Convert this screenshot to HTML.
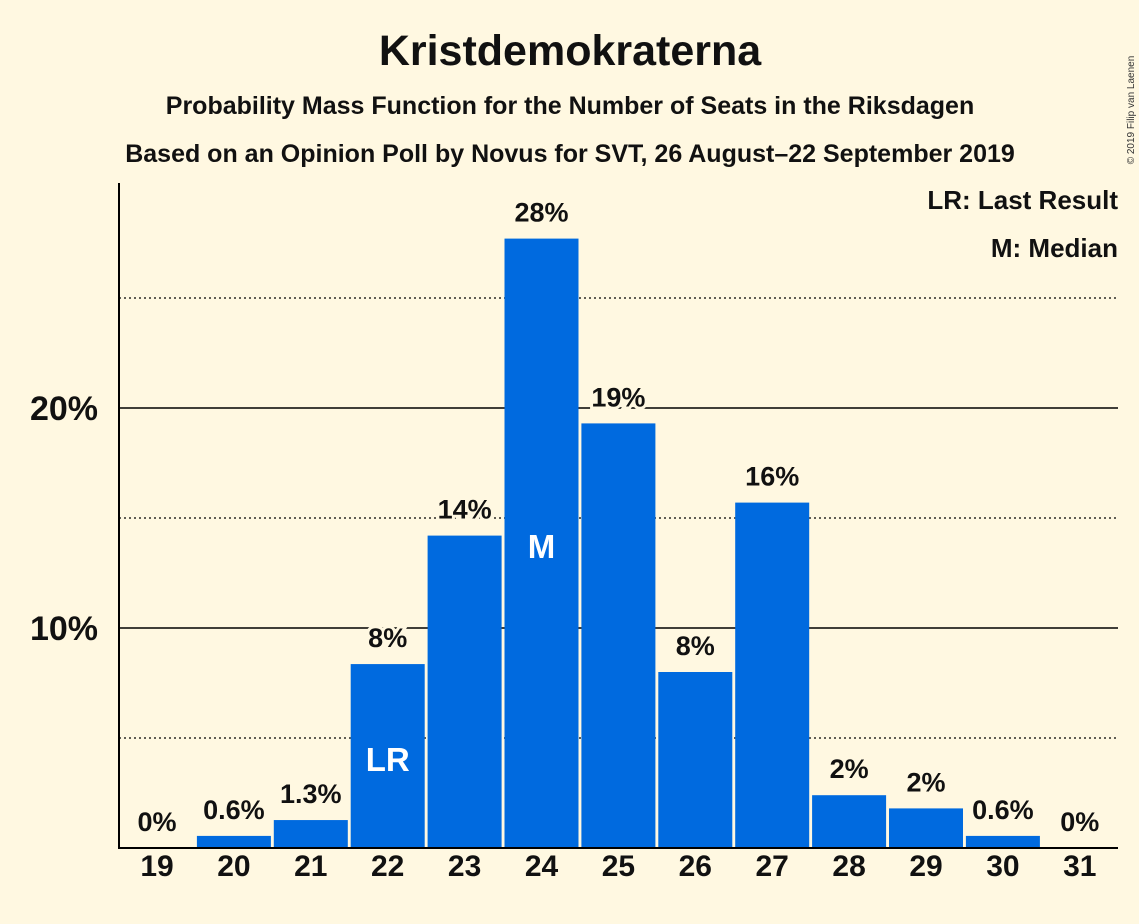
<!DOCTYPE html>
<html><head><meta charset="utf-8"><style>
body{margin:0;background:#fff8e1;}
svg{display:block;font-family:"Liberation Sans",sans-serif;}
</style></head><body>
<svg width="1139" height="924">
<rect width="1139" height="924" fill="#fff8e1"/>
<text x="570" y="65" text-anchor="middle" font-size="43" font-weight="bold" fill="#111">Kristdemokraterna</text>
<text x="570" y="114" text-anchor="middle" font-size="25" font-weight="bold" fill="#111">Probability Mass Function for the Number of Seats in the Riksdagen</text>
<text x="570" y="162" text-anchor="middle" font-size="25" font-weight="bold" fill="#111">Based on an Opinion Poll by Novus for SVT, 26 August–22 September 2019</text>
<text x="1134" y="110" transform="rotate(-90 1134 110)" text-anchor="middle" font-size="10" fill="#333">© 2019 Filip van Laenen</text>
<g id="grid"></g>
<g id="bars"></g>
<line x1="119" y1="183" x2="119" y2="849" stroke="#000" stroke-width="2"/>
<line x1="119" y1="848" x2="1118" y2="848" stroke="#000" stroke-width="2"/>
<text x="1118" y="209" text-anchor="end" font-size="26" font-weight="bold" fill="#111">LR: Last Result</text>
<text x="1118" y="257" text-anchor="end" font-size="26" font-weight="bold" fill="#111">M: Median</text>
</svg>
<script>
const seats=[19,20,21,22,23,24,25,26,27,28,29,30,31];
const probs=[0,0.55,1.27,8.36,14.2,27.7,19.3,8.0,15.7,2.4,1.8,0.55,0];
const labels=["0%","0.6%","1.3%","8%","14%","28%","19%","8%","16%","2%","2%","0.6%","0%"];
const markers=["","","","LR","","M","","","","","","",""];
const solidTicks=[10,20];
const dottedTicks=[5,15,25];
const tickLabels=["10%","20%"];
const NS="http://www.w3.org/2000/svg";
const y=v=>848-v*22;
const x=i=>157+i*76.9;
const grid=document.getElementById('grid'),bars=document.getElementById('bars');
function mk(tag,attrs,parent,txt){const e=document.createElementNS(NS,tag);for(const k in attrs)e.setAttribute(k,attrs[k]);if(txt!==undefined)e.textContent=txt;parent.appendChild(e);return e;}
dottedTicks.forEach(t=>{const l=mk('line',{x1:119,x2:1118,y1:y(t),y2:y(t),stroke:'#000','stroke-width':1.3,'stroke-dasharray':'2,3'},grid);

});
solidTicks.forEach((t,i)=>{const l=mk('line',{x1:119,x2:1118,y1:y(t),y2:y(t),stroke:'#000','stroke-width':1.5},grid);


const tx=mk('text',{x:98,y:y(t)+12,'text-anchor':'end','font-size':34,'font-weight':'bold',fill:'#111'},grid,tickLabels[i]);

});
seats.forEach((s,i)=>{
if(probs[i]>0){const r=mk('rect',{x:x(i)-37,y:y(probs[i]),width:74,height:848-y(probs[i]),fill:'#006adf'},bars);

}
const lt=mk('text',{x:x(i),y:y(probs[i])-17,'text-anchor':'middle','font-size':27,'font-weight':'bold',fill:'#111',stroke:'#fff8e1','stroke-width':6,'paint-order':'stroke'},bars,labels[i]);


const xt=mk('text',{x:x(i),y:876,'text-anchor':'middle','font-size':30,'font-weight':'bold',fill:'#111'},bars,String(s));


if(markers[i]){const m=mk('text',{x:x(i),y:(markers[i]==='M'?558:771),'text-anchor':'middle','font-size':33,'font-weight':'bold',fill:'#fff'},bars,markers[i]);

}
});
</script>
</body></html>
